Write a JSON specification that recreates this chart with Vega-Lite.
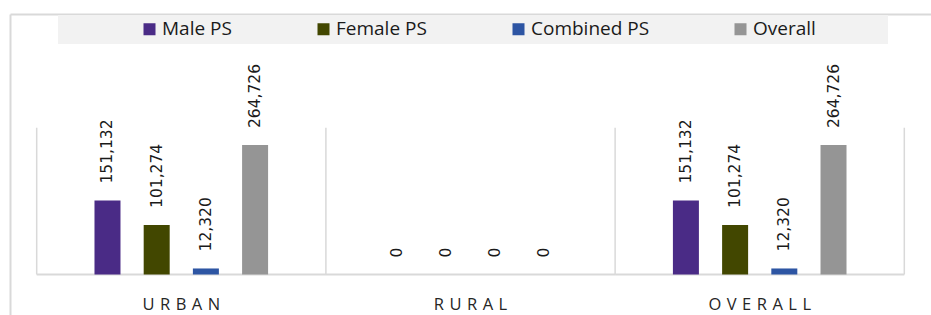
{
  "$schema": "https://vega.github.io/schema/vega-lite/v6.json",
  "width": 921,
  "height": 301,
  "autosize": {"type": "none"},
  "padding": {"left": 10, "top": 14, "right": 0, "bottom": 0},
  "background": "white",
  "config": {"view": {"stroke": null}},
  "datasets": {
    "bars": [
      {"cat": "URBAN", "series": "Male PS", "value": 151132},
      {"cat": "URBAN", "series": "Female PS", "value": 101274},
      {"cat": "URBAN", "series": "Combined PS", "value": 12320},
      {"cat": "URBAN", "series": "Overall", "value": 264726},
      {"cat": "RURAL", "series": "Male PS", "value": 0},
      {"cat": "RURAL", "series": "Female PS", "value": 0},
      {"cat": "RURAL", "series": "Combined PS", "value": 0},
      {"cat": "RURAL", "series": "Overall", "value": 0},
      {"cat": "OVERALL", "series": "Male PS", "value": 151132},
      {"cat": "OVERALL", "series": "Female PS", "value": 101274},
      {"cat": "OVERALL", "series": "Combined PS", "value": 12320},
      {"cat": "OVERALL", "series": "Overall", "value": 264726}
    ],
    "cats": [{"cat": "URBAN"}, {"cat": "RURAL"}, {"cat": "OVERALL"}]
  },
  "layer": [
    {
      "data": {"name": "cats"},
      "mark": {"type": "rule", "color": "#d9d9d9", "strokeWidth": 1.5},
      "encoding": {
        "x": {"field": "cat", "type": "nominal", "bandPosition": -0.0316, "sort": ["URBAN", "RURAL", "OVERALL"], "scale": {"paddingInner": 0.0595, "paddingOuter": 0.122, "align": 0.5},
          "axis": {"title": null, "orient": "bottom", "offset": -40.5, "domain": false, "ticks": false, "tickSize": 0, "labelAngle": 0, "labelBaseline": "alphabetic", "labelPadding": 35, "labelFont": "Open Sans", "labelFontSize": 16.5, "labelColor": "#262626", "labelExpr": "join(split(datum.label, ''), '\u2004')"}},
        "y": {"datum": 0, "type": "quantitative", "scale": {"domain": [-82790, 532514], "zero": false, "nice": false},
          "axis": {"title": null, "values": [532514], "grid": true, "gridColor": "#d9d9d9", "gridWidth": 2, "labels": false, "ticks": false, "domain": true, "domainColor": "#d9d9d9", "domainWidth": 2}},
        "y2": {"datum": 300000}
      }
    },
    {
      "data": {"name": "cats"},
      "transform": [{"filter": "datum.cat == 'OVERALL'"}],
      "mark": {"type": "rule", "color": "#d9d9d9", "strokeWidth": 1.5},
      "encoding": {
        "x": {"field": "cat", "type": "nominal", "bandPosition": 1.0316, "sort": ["URBAN", "RURAL", "OVERALL"],
          "axis": {"title": null, "orient": "bottom", "offset": -40.5, "domain": false, "ticks": false, "tickSize": 0, "labelAngle": 0, "labelBaseline": "alphabetic", "labelPadding": 35, "labelFont": "Open Sans", "labelFontSize": 16.5, "labelColor": "#262626", "labelExpr": "join(split(datum.label, ''), '\u2004')"}},
        "y": {"datum": 0, "type": "quantitative", "scale": {"domain": [-82790, 532514], "zero": false, "nice": false},
          "axis": {"title": null, "values": [532514], "grid": true, "gridColor": "#d9d9d9", "gridWidth": 2, "labels": false, "ticks": false, "domain": true, "domainColor": "#d9d9d9", "domainWidth": 2}},
        "y2": {"datum": 300000}
      }
    },
    {
      "data": {"name": "cats"},
      "mark": {"type": "rule", "color": "#d9d9d9", "strokeWidth": 2},
      "encoding": {
        "x": {"field": "cat", "type": "nominal", "bandPosition": -0.0316, "sort": ["URBAN", "RURAL", "OVERALL"],
          "axis": {"title": null, "orient": "bottom", "offset": -40.5, "domain": false, "ticks": false, "tickSize": 0, "labelAngle": 0, "labelBaseline": "alphabetic", "labelPadding": 35, "labelFont": "Open Sans", "labelFontSize": 16.5, "labelColor": "#262626", "labelExpr": "join(split(datum.label, ''), '\u2004')"}},
        "x2": {"field": "cat", "bandPosition": 1.0316},
        "y": {"datum": 0, "type": "quantitative", "scale": {"domain": [-82790, 532514], "zero": false, "nice": false},
          "axis": {"title": null, "values": [532514], "grid": true, "gridColor": "#d9d9d9", "gridWidth": 2, "labels": false, "ticks": false, "domain": true, "domainColor": "#d9d9d9", "domainWidth": 2}}
      }
    },
    {
      "data": {"name": "bars"},
      "mark": {"type": "bar"},
      "encoding": {
        "x": {"field": "cat", "type": "nominal", "sort": ["URBAN", "RURAL", "OVERALL"],
          "axis": {"title": null, "orient": "bottom", "offset": -40.5, "domain": false, "ticks": false, "tickSize": 0, "labelAngle": 0, "labelBaseline": "alphabetic", "labelPadding": 35, "labelFont": "Open Sans", "labelFontSize": 16.5, "labelColor": "#262626", "labelExpr": "join(split(datum.label, ''), '\u2004')"}},
        "xOffset": {"field": "series", "type": "nominal", "sort": ["Male PS", "Female PS", "Combined PS", "Overall"], "scale": {"paddingInner": 0.4715, "paddingOuter": 1}},
        "y": {"field": "value", "type": "quantitative", "scale": {"domain": [-82790, 532514], "zero": false, "nice": false},
          "axis": {"title": null, "values": [532514], "grid": true, "gridColor": "#d9d9d9", "gridWidth": 2, "labels": false, "ticks": false, "domain": true, "domainColor": "#d9d9d9", "domainWidth": 2}},
        "y2": {"datum": 0},
        "color": {
          "field": "series", "type": "nominal",
          "sort": ["Male PS", "Female PS", "Combined PS", "Overall"],
          "scale": {"domain": ["Male PS", "Female PS", "Combined PS", "Overall"], "range": ["#4a2b86", "#424700", "#2d55a3", "#959595"]},
          "legend": {
            "orient": "none", "legendX": 48, "legendY": 1, "direction": "horizontal",
            "fillColor": "#f2f2f2", "padding": 4.5,
            "title": "\u00a0", "titleOrient": "right", "titlePadding": 67.5, "titleFontSize": 1,
            "symbolType": "square", "symbolSize": 144, "symbolStrokeWidth": 0, "symbolOpacity": 1,
            "symbolOffset": 77.5, "labelOffset": 3, "columnPadding": 4,
            "labelFont": "Open Sans", "labelFontSize": 19, "labelColor": "#1a1a1a", "labelLimit": 300
          }
        }
      }
    },
    {
      "data": {"name": "bars"},
      "mark": {"type": "text", "angle": 270, "align": "left", "baseline": "middle", "dx": 17, "font": "DejaVu Sans", "fontSize": 15.5, "fill": "#1a1a1a"},
      "encoding": {
        "x": {"field": "cat", "type": "nominal", "sort": ["URBAN", "RURAL", "OVERALL"],
          "axis": {"title": null, "orient": "bottom", "offset": -40.5, "domain": false, "ticks": false, "tickSize": 0, "labelAngle": 0, "labelBaseline": "alphabetic", "labelPadding": 35, "labelFont": "Open Sans", "labelFontSize": 16.5, "labelColor": "#262626", "labelExpr": "join(split(datum.label, ''), '\u2004')"}},
        "xOffset": {"field": "series", "type": "nominal", "sort": ["Male PS", "Female PS", "Combined PS", "Overall"], "scale": {"paddingInner": 0.4715, "paddingOuter": 1}},
        "y": {"field": "value", "type": "quantitative", "scale": {"domain": [-82790, 532514], "zero": false, "nice": false},
          "axis": {"title": null, "values": [532514], "grid": true, "gridColor": "#d9d9d9", "gridWidth": 2, "labels": false, "ticks": false, "domain": true, "domainColor": "#d9d9d9", "domainWidth": 2}},
        "text": {"field": "value", "type": "quantitative", "format": ",d"}
      }
    }
  ]
}
